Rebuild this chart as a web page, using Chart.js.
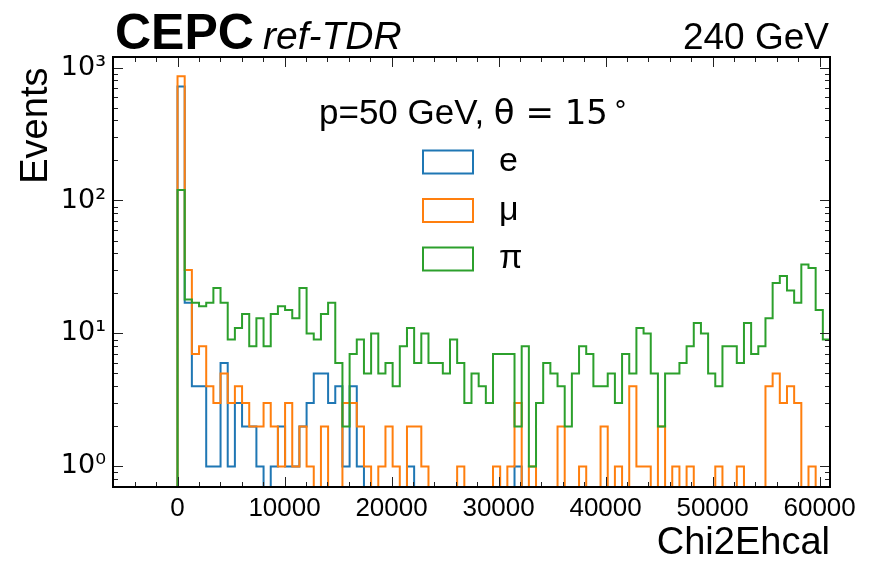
<!DOCTYPE html>
<html>
<head>
<meta charset="utf-8">
<script src="https://cdn.jsdelivr.net/npm/chart.js@4.4.1/dist/chart.umd.min.js"></script>
<style>
  html, body { margin: 0; padding: 0; background: #fff; }
  canvas { display: block; }
</style>
</head>
<body>
<canvas id="c" width="869" height="563"></canvas>
<script>
// Chi2Ehcal histograms, 670-wide bins starting at 0
const binWidth = 670;
const firstEdge = 0;
const xMin = -6030;
const xMax = 60970;

const countsE = [
  720, 17, 4, 4, 1, 1, 6, 1, 3, 2, 2, 1, 0, 1, 2, 1, 1, 2, 3, 5,
  5, 3, 4, 1, 4, 1, 0, 0, 0, 0, 0, 0, 1, 0, 0, 0, 0, 0, 0, 0,
  0, 0, 0, 0, 0, 0, 0, 1, 0, 0, 0, 0, 0, 0, 0, 0, 0, 0, 0, 0,
  0, 0, 0, 0, 0, 0, 0, 0, 0, 0, 0, 0, 0, 0, 0, 0, 0, 0, 0, 0,
  0, 0, 0, 0, 0, 0, 0, 0, 0, 0, 0
];
const countsMu = [
  860, 30, 7, 8, 4, 3, 5, 3, 4, 3, 2, 2, 3, 2, 1, 3, 1, 2, 1, 0,
  2, 0, 0, 3, 3, 2, 1, 0, 1, 2, 1, 0, 2, 2, 1, 0, 0, 0, 0, 1,
  0, 0, 0, 0, 1, 0, 1, 3, 0, 1, 0, 0, 0, 2, 0, 0, 1, 0, 0, 2,
  0, 1, 0, 4, 1, 1, 0, 2, 0, 1, 0, 1, 0, 0, 0, 1, 0, 0, 1, 0,
  0, 0, 4, 5, 3, 4, 3, 0, 1, 0, 0
];
const countsPi = [
  120, 18, 17, 16, 17, 22, 17, 9, 11, 14, 8, 13, 8, 14, 16, 15, 13, 22, 10, 9,
  14, 17, 6, 2, 7, 9, 5, 10, 5, 6, 4, 8, 11, 6, 10, 6, 6, 5, 9, 6,
  3, 5, 4, 3, 7, 7, 7, 2, 8, 1, 3, 6, 5, 4, 2, 5, 8, 7, 4, 4,
  5, 3, 7, 5, 11, 10, 5, 2, 5, 5, 6, 8, 12, 10, 5, 4, 8, 8, 6, 12,
  7, 8, 13, 24, 27, 21, 17, 33, 31, 15, 9
];

const seriesNames = ['e', 'μ', 'π'];
const seriesColors = ['#1f77b4', '#ff7f0e', '#2ca02c'];
const xTickValues = [0, 10000, 20000, 30000, 40000, 50000, 60000];
const yTickValues = [1, 10, 100, 1000];
const yTickLabels = ['10⁰', '10¹', '10²', '10³'];

// Empty bins sit below the visible log range so the outline drops to the axis
const belowAxis = 0.1;

function stepOutline(counts) {
  const pts = [{ x: firstEdge, y: belowAxis }];
  counts.forEach((c, i) => {
    const v = c > 0 ? c : belowAxis;
    pts.push({ x: firstEdge + i * binWidth, y: v });
    pts.push({ x: firstEdge + (i + 1) * binWidth, y: v });
  });
  pts.push({ x: firstEdge + counts.length * binWidth, y: belowAxis });
  return pts;
}

const allCounts = [countsE, countsMu, countsPi];
const datasets = allCounts.map((counts, i) => ({
  label: seriesNames[i],
  data: stepOutline(counts),
  borderColor: seriesColors[i],
  borderWidth: 2,
  pointRadius: 0,
  fill: false,
  tension: 0,
  order: 3 - i
}));

const SANS = '"Liberation Sans", Arial, sans-serif';
const MATH = '"DejaVu Sans", sans-serif';

// Inward ticks on all four sides plus the black frame
const framePlugin = {
  id: 'frame',
  afterDatasetsDraw(chart) {
    const { ctx, chartArea: a, scales } = chart;
    const xs = scales.x, ys = scales.y;
    ctx.save();
    ctx.strokeStyle = '#222';
    ctx.lineWidth = 1;
    ctx.beginPath();
    for (let v = -6000; v <= xMax; v += 2000) {
      const px = Math.round(xs.getPixelForValue(v)) + 0.5;
      const len = (v % 10000 === 0) ? 10 : 5;
      ctx.moveTo(px, a.bottom); ctx.lineTo(px, a.bottom - len);
      ctx.moveTo(px, a.top); ctx.lineTo(px, a.top + len);
    }
    for (let e = -1; e <= 3; e++) {
      for (let m = 1; m <= 9; m++) {
        const v = m * Math.pow(10, e);
        if (v < ys.min || v > ys.max) continue;
        const py = Math.round(ys.getPixelForValue(v)) + 0.5;
        const len = m === 1 ? 10 : 5;
        ctx.moveTo(a.left, py); ctx.lineTo(a.left + len, py);
        ctx.moveTo(a.right, py); ctx.lineTo(a.right - len, py);
      }
    }
    ctx.stroke();
    ctx.strokeStyle = '#000';
    ctx.lineWidth = 2;
    ctx.strokeRect(a.left, a.top, a.right - a.left, a.bottom - a.top);
    ctx.restore();
  }
};

// Experiment label, energy, selection text and legend
const annotationPlugin = {
  id: 'annotations',
  afterDraw(chart) {
    const { ctx } = chart;
    ctx.save();
    ctx.fillStyle = '#000';
    ctx.textBaseline = 'alphabetic';
    ctx.textAlign = 'left';
    ctx.font = 'bold 50px ' + SANS;
    ctx.fillText('CEPC', 115, 49);
    ctx.font = 'italic 39px ' + SANS;
    ctx.fillText('ref-TDR', 263, 49);
    ctx.textAlign = 'right';
    ctx.font = '37px ' + SANS;
    ctx.fillText('240 GeV', 829, 49);

    // selection text, centred over the legend
    const partA = 'p=50 GeV, ';
    const partB = 'θ = 15';
    const partC = '°';
    ctx.textAlign = 'left';
    ctx.font = '35px ' + SANS;
    const wA = ctx.measureText(partA).width;
    ctx.font = '34px ' + MATH;
    const wB = ctx.measureText(partB).width;
    ctx.font = '26px ' + MATH;
    const wC = ctx.measureText(partC).width;
    const gap = 6;
    const x0 = 473 - (wA + wB + gap + wC) / 2;
    ctx.font = '35px ' + SANS;
    ctx.fillText(partA, x0, 124);
    ctx.font = '34px ' + MATH;
    ctx.fillText(partB, x0 + wA, 124);
    ctx.font = '26px ' + MATH;
    ctx.fillText(partC, x0 + wA + wB + gap, 120);

    // legend: open boxes with labels
    const centers = [162, 210.5, 259];
    seriesNames.forEach((name, i) => {
      const cy = centers[i];
      ctx.strokeStyle = seriesColors[i];
      ctx.lineWidth = 2;
      ctx.strokeRect(423, cy - 11.5, 50, 23);
      ctx.fillStyle = '#000';
      ctx.font = '34px ' + SANS;
      ctx.fillText(name, 499, cy + 9);
    });
    ctx.restore();
  }
};

new Chart(document.getElementById('c'), {
  type: 'line',
  data: { datasets },
  options: {
    responsive: false,
    animation: false,
    devicePixelRatio: 1,
    layout: { padding: { top: 57, right: 39, left: 0, bottom: 0 } },
    plugins: { legend: { display: false }, tooltip: { enabled: false } },
    scales: {
      x: {
        type: 'linear',
        position: 'bottom',
        min: xMin,
        max: xMax,
        afterFit(scale) { scale.height = 76; },
        afterBuildTicks(scale) { scale.ticks = xTickValues.map(v => ({ value: v })); },
        grid: { display: false, drawTicks: false },
        border: { display: false },
        ticks: {
          autoSkip: false,
          maxRotation: 0,
          padding: 6,
          color: '#000',
          font: { family: SANS, size: 26 },
          callback: (v) => String(v)
        },
        title: {
          display: true,
          text: 'Chi2Ehcal',
          align: 'end',
          color: '#000',
          font: { family: SANS, size: 38, lineHeight: 1.0 },
          padding: { top: 0, bottom: 0 }
        }
      },
      y: {
        type: 'logarithmic',
        min: 0.72,
        max: 1200,
        afterFit(scale) { scale.width = 113; },
        afterBuildTicks(scale) { scale.ticks = yTickValues.map(v => ({ value: v })); },
        grid: { display: false, drawTicks: false },
        border: { display: false },
        ticks: {
          autoSkip: false,
          padding: 7,
          color: '#000',
          font: { family: MATH, size: 27 },
          callback: (v) => {
            const k = yTickValues.indexOf(v);
            return k >= 0 ? yTickLabels[k] : '';
          }
        },
        title: {
          display: true,
          text: 'Events ',
          align: 'end',
          color: '#000',
          font: { family: SANS, size: 38 },
          padding: { top: 14, bottom: 0 }
        }
      }
    }
  },
  plugins: [framePlugin, annotationPlugin]
});
</script>
</body>
</html>
